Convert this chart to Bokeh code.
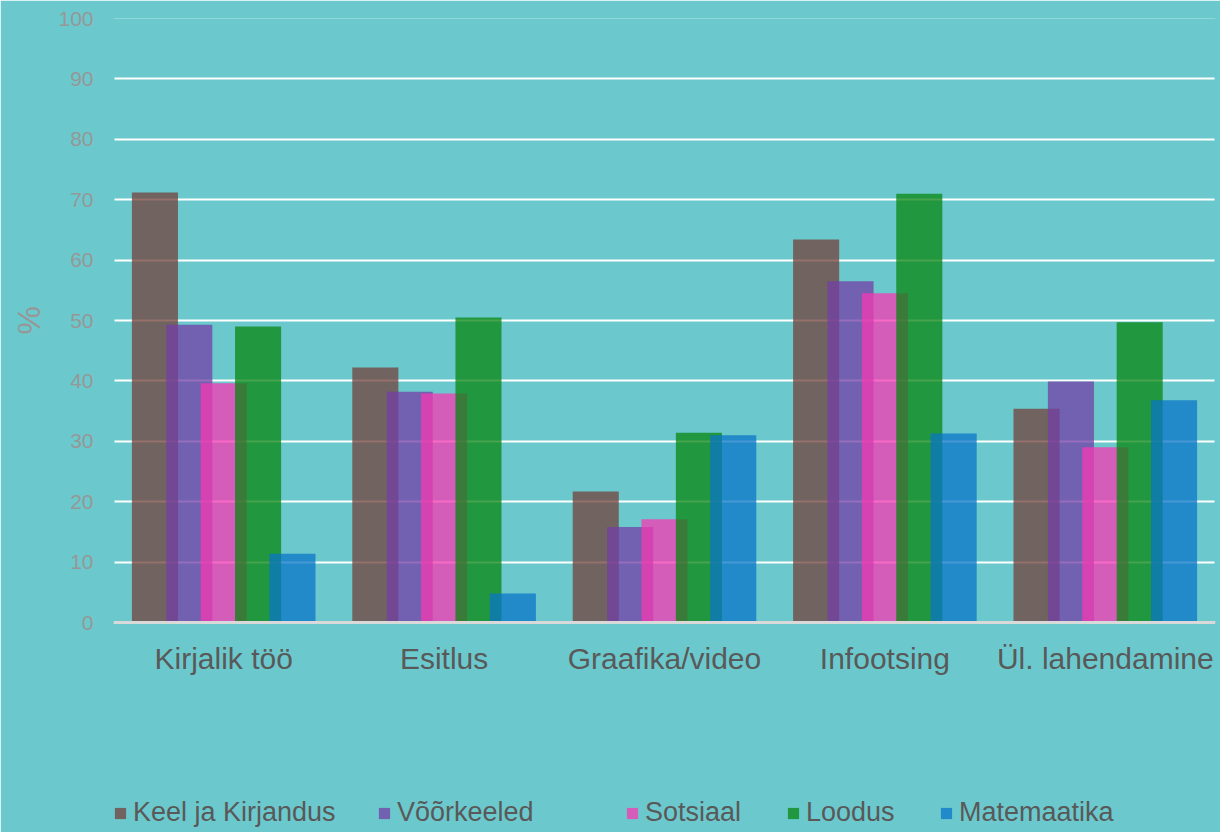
from bokeh.plotting import figure
from bokeh.models import (ColumnDataSource, FactorRange, Range1d, Legend, LegendItem,
                          FixedTicker, Span, Title, LinearAxis)
from bokeh.core.properties import value
from bokeh.transform import dodge
from bokeh.embed import file_html
from bokeh.resources import INLINE

categories = ["Kirjalik töö", "Esitlus", "Graafika/video", "Infootsing", "Ül. lahendamine"]
series = ["Keel ja Kirjandus", "Võõrkeeled", "Sotsiaal", "Loodus", "Matemaatika"]
keel = [71.2, 42.2, 21.7, 63.4, 35.4]
voorkeeled = [49.3, 38.2, 15.8, 56.5, 39.9]
sotsiaal = [39.6, 37.9, 17.1, 54.5, 29.0]
loodus = [49.0, 50.5, 31.4, 71.0, 49.7]
matemaatika = [11.4, 4.8, 31.0, 31.3, 36.8]
y_ticks = [0, 10, 20, 30, 40, 50, 60, 70, 80, 90, 100]

values = [keel, voorkeeled, sotsiaal, loodus, matemaatika]
colors = ["#73403A", "#733DA5", "#F738B1", "#088510", "#0A74C6"]
offsets = [-0.312, -0.156, 0.0, 0.156, 0.312]
legend_x = [0, 264, 512, 673, 826]

BG = "#6BC9CD"
FONT = "Liberation Sans"

# layout: plot area 0..100 occupies 604px; extra 210px below for labels and legend
PX_PER_UNIT = 604 / 100
Y_MIN = -210 / PX_PER_UNIT
LABEL_Y = -36 / PX_PER_UNIT

data = {"cat": categories, "label_y": [LABEL_Y] * len(categories)}
for i, v in enumerate(values):
    data["s%d" % i] = v
source = ColumnDataSource(data)

p = figure(x_range=FactorRange(*categories, range_padding=0), y_range=Range1d(Y_MIN, 100),
           width=1220, height=832, output_backend="svg", toolbar_location=None,
           min_border_left=113, min_border_right=5, min_border_top=18, min_border_bottom=0)
p.background_fill_color = BG
p.border_fill_color = BG
p.outline_line_color = None

renderers = []
for i in range(5):
    r = p.vbar(x=dodge("cat", offsets[i], range=p.x_range), top="s%d" % i, width=0.209,
               source=source, fill_color=colors[i], fill_alpha=0.75, line_color=None)
    renderers.append(r)

# category labels (x axis)
p.text(x="cat", y="label_y", text="cat", source=source, text_align="center",
       text_baseline="middle", text_font=value(FONT), text_font_size="30px",
       text_color="#595959")
p.add_layout(Span(location=0, dimension="width", line_color="#D9D9D9", line_width=3))
p.xaxis.visible = False

p.xgrid.grid_line_color = None
p.ygrid.grid_line_color = "white"
p.ygrid.grid_line_width = 2
p.ygrid.ticker = FixedTicker(ticks=y_ticks)
p.yaxis.ticker = FixedTicker(ticks=y_ticks)
p.yaxis.axis_line_color = BG
p.yaxis.axis_line_width = 2
p.yaxis.major_tick_line_color = None
p.yaxis.minor_tick_line_color = None
p.yaxis.major_label_text_font = FONT
p.yaxis.major_label_text_font_size = "21px"
p.yaxis.major_label_text_color = "#979797"
p.yaxis.major_label_standoff = 14

# blank right axis only to hide the frame edge seam
right_axis = LinearAxis(axis_line_color=BG, axis_line_width=2, major_tick_line_color=None,
                        minor_tick_line_color=None, major_label_text_font_size="0px",
                        major_label_standoff=0, ticker=FixedTicker(ticks=[]))
p.add_layout(right_axis, "right")

p.add_layout(Title(text="%", align="left", offset=498, text_font=FONT,
                   text_font_size="32px", text_font_style="normal",
                   text_color="#979797", standoff=17), "left")

for i in range(5):
    lg = Legend(items=[LegendItem(label=series[i], renderers=[renderers[i]])],
                location=(legend_x[i], 4), orientation="horizontal",
                padding=0, margin=0, spacing=0,
                glyph_width=14, glyph_height=14, label_standoff=6,
                label_text_font=FONT, label_text_font_size="27px", label_text_color="#595959",
                background_fill_alpha=0, border_line_color=None)
    p.add_layout(lg, "center")

open("out.html", "w").write(file_html(p, INLINE))
